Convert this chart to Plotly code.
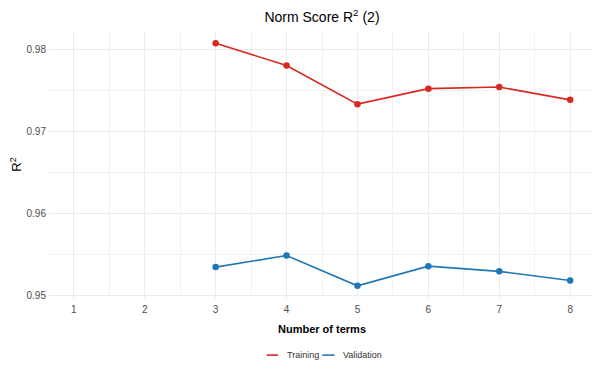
import plotly.graph_objects as go

terms = [3, 4, 5, 6, 7, 8]
training = [0.98081, 0.97808, 0.97336, 0.97525, 0.97545, 0.97388]
validation = [0.95345, 0.95486, 0.95116, 0.95357, 0.95293, 0.95181]
x_ticks = [1, 2, 3, 4, 5, 6, 7, 8]
y_ticks = [0.95, 0.96, 0.97, 0.98]
y_tick_labels = ["0.95", "0.96", "0.97", "0.98"]
series_names = ["Training", "Validation"]

RED = "#d7291f"
BLUE = "#1f78b4"
FONT = "Liberation Sans, Arial, sans-serif"

W, H = 592, 366  # page body has an 8px margin

fig = go.Figure()
for name, vals, col in zip(series_names, [training, validation], [RED, BLUE]):
    fig.add_trace(go.Scatter(x=terms, y=vals, mode="lines+markers", name=name, showlegend=False,
                             line=dict(color=col, width=1.6), marker=dict(color=col, size=6.5)))

lo = min(validation + training)
hi = max(validation + training)
pad = (hi - lo) * 0.05

# manual legend (short line keys like ggplot)
legend_y = -0.2138
legend_layout = [(0.3987, 0.4194, 0.4322), (0.5005, 0.5230, 0.5353)]
for name, col, (x0, x1, xt) in zip(series_names, [RED, BLUE], legend_layout):
    fig.add_shape(type="line", xref="paper", yref="paper", x0=x0, x1=x1, y0=legend_y, y1=legend_y,
                  line=dict(color=col, width=1.6))
    fig.add_annotation(text=name, xref="paper", yref="paper", x=xt, y=legend_y, xanchor="left",
                       yanchor="middle", showarrow=False, font=dict(size=9, color="#333333"))

fig.update_layout(
    width=W, height=H,
    margin=dict(l=41, r=5, t=23, b=75.5, autoexpand=False),
    paper_bgcolor="white", plot_bgcolor="white",
    font=dict(family=FONT, color="#4d4d4d"),
    title=dict(text="Norm Score R<sup>2</sup> (2)", x=0.5, xref="paper", xanchor="center",
               y=1 - 9 / H, yref="container", yanchor="middle",
               font=dict(size=14, color="black", family=FONT)),
    xaxis=dict(range=[1 - 0.35, 8 + 0.35], tickvals=x_ticks, ticktext=[str(v) for v in x_ticks],
               showgrid=True, gridcolor="#ebebeb", gridwidth=1, zeroline=False, showline=False,
               ticks="", tickfont=dict(size=10, color="#4d4d4d"), automargin=False,
               ticklabelstandoff=4,
               minor=dict(dtick=0.5, tick0=0.5, showgrid=True, gridcolor="#f2f2f2", gridwidth=0.7),
               title=dict(text="<b>Number of terms</b>", font=dict(size=11, color="black"), standoff=11)),
    yaxis=dict(range=[lo - pad, hi + pad], tickvals=y_ticks, ticktext=y_tick_labels,
               showgrid=True, gridcolor="#ebebeb", gridwidth=1, zeroline=False, showline=False,
               ticks="", tickfont=dict(size=10, color="#4d4d4d"), automargin=False,
               ticklabelstandoff=2,
               minor=dict(dtick=0.005, tick0=0.945, showgrid=True, gridcolor="#f2f2f2", gridwidth=0.7),
               title=dict(text="R<sup>2</sup>", font=dict(size=13, color="black"), standoff=7)),
    showlegend=False,
)
fig.write_html("out.html")
